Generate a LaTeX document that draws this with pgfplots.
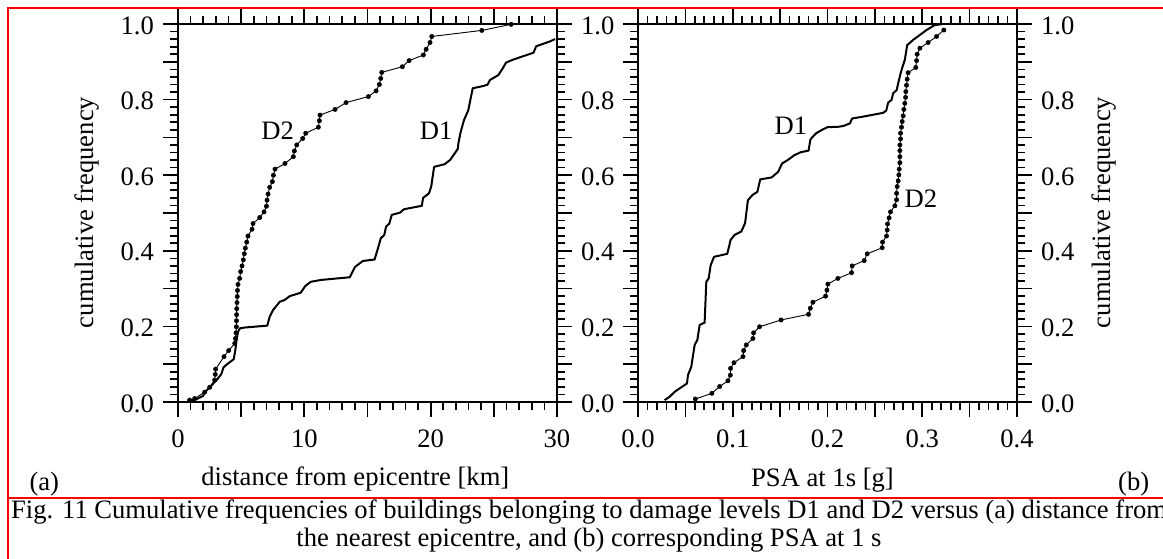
\documentclass[border=0pt]{standalone}
\usepackage{pgfplots}
\pgfplotsset{compat=1.18}
\usepackage{fontspec}
\setmainfont{Liberation Serif}
\newcommand{\bigfnt}{\fontsize{26.6}{30}\selectfont}
\pgfplotsset{
  panel/.style={
    scale only axis, width=379pt, height=378pt,
    anchor=south west,
    ymin=0, ymax=1,
    tick align=outside,
    axis line style={line width=2pt},
    tick style={black, line width=1.7pt},
    major tick length=15pt, minor tick length=8pt,
    ytick={0,0.2,0.4,0.6,0.8,1}, yticklabels={0.0,0.2,0.4,0.6,0.8,1.0},
    extra y ticks={0.1,0.3,0.5,0.7,0.9}, extra y tick labels={},
    minor y tick num=9,
    tick label style={font=\bigfnt},
    xticklabel style={yshift=-4pt},
    yticklabel style={yshift=-1.5pt},
  },
  d1/.style={black, line width=2pt, line join=round},
  d2/.style={black, line width=0.9pt, mark=*, mark size=2.2pt, mark options={line width=0.4pt}},
}
\begin{document}
\bigfnt
\begin{tikzpicture}
\useasboundingbox (0,0) rectangle (1163pt,559pt);
% panel (a)
\begin{axis}[panel, at={(178pt,157pt)}, xmin=0, xmax=30,
  xtick={0,10,20,30}, xticklabels={0,10,20,30},
  extra x ticks={5,15,25}, extra x tick labels={}, minor x tick num=9,
  yticklabel pos=left]
\addplot[d1] table {
0.79 0.003
1.45 0.007
1.98 0.016
2.24 0.030
2.77 0.048
3.11 0.060
3.43 0.074
3.61 0.092
3.96 0.102
4.41 0.113
4.54 0.138
4.64 0.164
4.75 0.186
4.91 0.195
5.28 0.197
7.07 0.202
7.26 0.226
7.52 0.243
8.05 0.265
8.45 0.270
8.84 0.280
9.71 0.289
10.08 0.307
10.51 0.318
11.35 0.323
13.60 0.330
14.00 0.357
14.63 0.373
15.56 0.377
15.85 0.409
16.05 0.433
16.33 0.442
16.47 0.464
16.73 0.472
16.92 0.495
17.58 0.501
17.89 0.510
19.30 0.519
19.40 0.540
19.87 0.552
20.05 0.571
20.27 0.622
21.10 0.629
21.53 0.640
21.85 0.655
22.15 0.670
22.19 0.684
22.38 0.715
22.64 0.746
22.98 0.772
23.33 0.830
23.91 0.834
24.49 0.839
24.70 0.852
25.36 0.865
25.71 0.883
25.97 0.898
26.55 0.906
27.61 0.918
28.14 0.924
28.35 0.941
29.45 0.954
29.85 0.960
};
\addplot[d2] table {
0.92 0.005
1.32 0.009
2.11 0.026
2.51 0.039
2.90 0.058
2.95 0.073
2.98 0.087
3.64 0.120
4.01 0.136
4.49 0.155
4.54 0.168
4.59 0.183
4.62 0.199
4.63 0.215
4.64 0.231
4.65 0.247
4.67 0.263
4.69 0.279
4.71 0.295
4.75 0.311
4.88 0.327
4.96 0.345
5.07 0.360
5.17 0.376
5.25 0.392
5.33 0.407
5.44 0.423
5.54 0.439
5.86 0.457
5.94 0.472
6.47 0.488
6.81 0.503
7.00 0.518
7.05 0.534
7.13 0.550
7.26 0.568
7.47 0.583
7.55 0.600
7.68 0.616
8.47 0.631
9.13 0.649
9.21 0.664
9.40 0.680
9.87 0.697
10.11 0.711
11.11 0.727
11.19 0.744
11.24 0.759
12.43 0.774
13.30 0.792
15.07 0.808
15.68 0.823
15.94 0.840
16.05 0.856
16.13 0.872
17.76 0.887
18.29 0.903
19.42 0.918
19.64 0.933
19.95 0.951
20.09 0.967
24.05 0.983
26.37 0.999
};
\node[font=\bigfnt] at (axis cs:7.89,0.717) {D2};
\node[font=\bigfnt] at (axis cs:20.43,0.717) {D1};
\end{axis}
% labels on right side of (a)
\begin{axis}[panel, at={(178pt,157pt)}, xmin=0, xmax=30,
  xtick=\empty, extra y ticks={}, minor y tick num=0,
  axis line style={draw=none}, tick style={draw=none},
  yticklabel pos=right]
\end{axis}
% panel (b)
\begin{axis}[panel, at={(638pt,157pt)}, xmin=0, xmax=0.4,
  xtick={0,0.1,0.2,0.3,0.4}, xticklabels={0.0,0.1,0.2,0.3,0.4},
  extra x ticks={0.05,0.15,0.25,0.35}, extra x tick labels={}, minor x tick num=9,
  yticklabel pos=right]
\addplot[d1] table {
0.0281 0.005
0.0334 0.014
0.0387 0.027
0.0457 0.039
0.0517 0.049
0.0527 0.071
0.0562 0.093
0.0573 0.111
0.0598 0.151
0.0626 0.164
0.0651 0.204
0.0703 0.210
0.0721 0.318
0.0746 0.327
0.0767 0.362
0.0802 0.384
0.0942 0.392
0.0978 0.429
0.1020 0.442
0.1090 0.451
0.1130 0.473
0.1160 0.534
0.1210 0.548
0.1260 0.556
0.1290 0.589
0.1410 0.594
0.1480 0.609
0.1520 0.631
0.1580 0.640
0.1650 0.653
0.1720 0.661
0.1800 0.665
0.1820 0.695
0.1880 0.711
0.1950 0.721
0.2000 0.727
0.2110 0.728
0.2166 0.730
0.2236 0.737
0.2260 0.750
0.2377 0.755
0.2588 0.765
0.2620 0.771
0.2640 0.792
0.2676 0.799
0.2693 0.817
0.2730 0.825
0.2746 0.843
0.2771 0.869
0.2792 0.887
0.2816 0.905
0.2841 0.944
0.2904 0.958
0.2975 0.971
0.3045 0.984
0.3130 0.997
0.3220 1.000
};
\addplot[d2] table {
0.0605 0.008
0.0780 0.023
0.0862 0.041
0.0949 0.056
0.0974 0.071
0.0977 0.089
0.1013 0.104
0.1108 0.120
0.1115 0.136
0.1143 0.151
0.1213 0.168
0.1220 0.183
0.1283 0.199
0.1510 0.217
0.1800 0.232
0.1818 0.248
0.1846 0.264
0.1980 0.280
0.1994 0.296
0.2004 0.312
0.2110 0.327
0.2254 0.342
0.2260 0.360
0.2387 0.374
0.2419 0.392
0.2577 0.408
0.2581 0.423
0.2623 0.439
0.2630 0.455
0.2634 0.471
0.2650 0.487
0.2665 0.503
0.2711 0.519
0.2729 0.535
0.2729 0.552
0.2735 0.570
0.2746 0.585
0.2753 0.601
0.2757 0.616
0.2764 0.633
0.2764 0.649
0.2764 0.665
0.2764 0.680
0.2771 0.696
0.2771 0.711
0.2781 0.727
0.2788 0.742
0.2799 0.757
0.2806 0.774
0.2816 0.790
0.2824 0.806
0.2827 0.821
0.2834 0.838
0.2841 0.854
0.2851 0.871
0.2932 0.885
0.2940 0.903
0.2946 0.920
0.2975 0.936
0.3062 0.951
0.3151 0.967
0.3228 0.984
};
\node[font=\bigfnt] at (axis cs:0.1614,0.730) {D1};
\node[font=\bigfnt] at (axis cs:0.2985,0.537) {D2};
\end{axis}
% axis titles and panel letters
\node[font=\bigfnt, rotate=90, inner sep=0pt] at (87pt,346.5pt) {cumulative frequency};
\node[font=\bigfnt, rotate=90, inner sep=0pt] at (1104pt,346.5pt) {cumulative frequency};
\node[font=\bigfnt, inner sep=0pt, anchor=base] at (355.3pt,73pt) {distance from epicentre [km]};
\node[font=\bigfnt, inner sep=0pt, anchor=base] at (822.5pt,72pt) {PSA at 1s [g]};
\node[font=\bigfnt, inner sep=0pt, anchor=base west] at (29.3pt,68.3pt) {(a)};
\node[font=\bigfnt, inner sep=0pt, anchor=base west] at (1118pt,68.3pt) {(b)};
% frame
\draw[red, line width=2pt] (8.3pt,-5pt) -- (8.3pt,551pt) -- (1175pt,551pt);
\draw[red, line width=2pt] (8.3pt,60.7pt) -- (1175pt,60.7pt);
% caption
\node[font=\bigfnt, inner sep=0pt, anchor=base west] at (11pt,40pt) {Fig. 11 Cumulative frequencies of buildings belonging to damage levels D1 and D2 versus (a) distance from};
\node[font=\bigfnt, inner sep=0pt, anchor=base] at (589pt,12pt) {the nearest epicentre, and (b) corresponding PSA at 1 s};
\end{tikzpicture}
\end{document}
